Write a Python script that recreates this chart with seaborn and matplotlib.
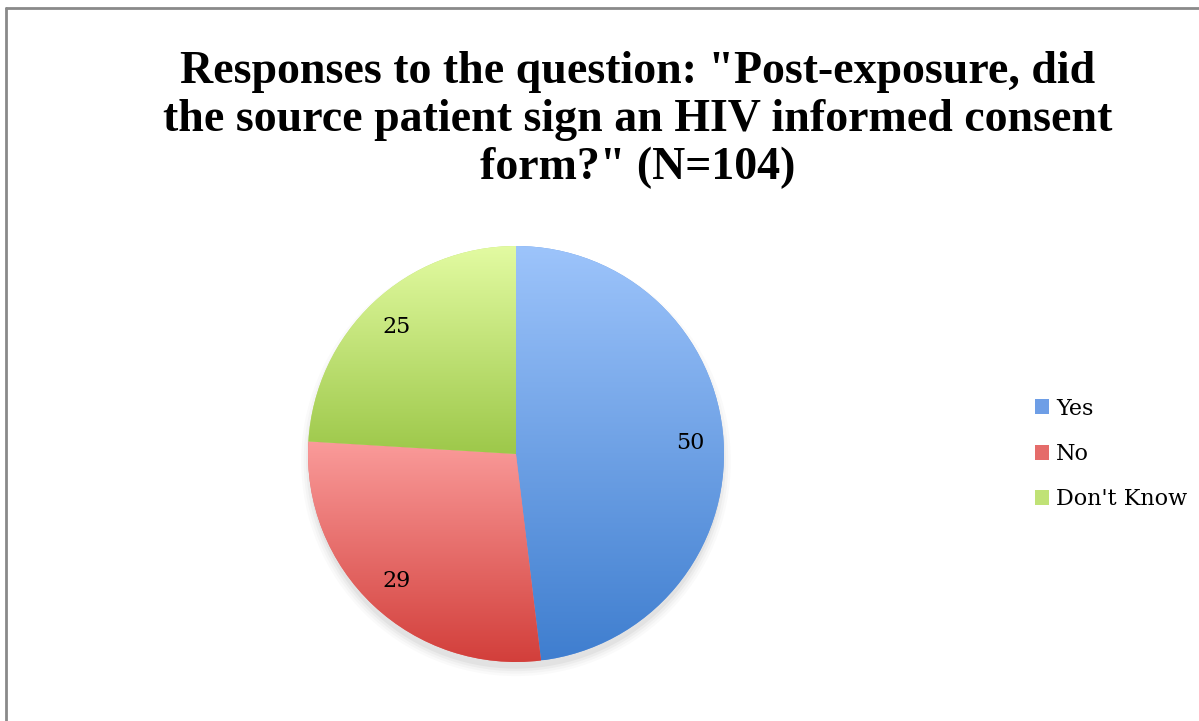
import numpy as np
import matplotlib
matplotlib.use("Agg")
import matplotlib.pyplot as plt
import seaborn as sns
from matplotlib.patches import Patch, Circle
from matplotlib.lines import Line2D
from matplotlib.colors import LinearSegmentedColormap

categories = ["Yes", "No", "Don't Know"]
values = [50, 29, 25]
top_colors = ["#9DC4FB", "#FA9B9A", "#E3FBA2"]
bottom_colors = ["#3F7ECF", "#D23E3A", "#9DC84A"]
mid_colors = ["#6E9EE6", "#E56C6A", "#C0E276"]
title_lines = ['Responses to the question: "Post-exposure, did',
               'the source patient sign an HIV informed consent',
               'form?" (N=104)']

sns.set_theme(style="white")
plt.rcParams['font.family'] = ['DejaVu Serif']
plt.rcParams['text.color'] = 'black'

W, H = 1199, 721
fig = plt.figure(figsize=(W / 100, H / 100), dpi=100)
fig.patch.set_facecolor("white")

cx, cy, R = 516, 454, 208
half = R * 1.1
ax = fig.add_axes([(cx - half) / W, (H - cy - half) / H, 2 * half / W, 2 * half / H])
ax.set_aspect("equal")
ax.axis("off")

# soft shadow at the bottom
for i, a in enumerate([0.02, 0.025, 0.03, 0.04]):
    ax.add_patch(Circle((0, -0.035), 0.985 + 0.012 * (4 - i), color="black", alpha=a, lw=0, zorder=0))

total = sum(values)
wedges, texts, autotexts = ax.pie(
    values, startangle=90, counterclock=False, colors=mid_colors,
    autopct=lambda p: f"{round(p * total / 100)}", pctdistance=0.84,
    radius=1.0, wedgeprops=dict(linewidth=0),
    textprops=dict(fontsize=16, color="black"),
)

for w, c0, c1 in zip(wedges, top_colors, bottom_colors):
    path = w.get_path()
    verts = w.get_transform().transform(path.vertices)
    verts = ax.transData.inverted().transform(verts)
    ymin, ymax = verts[:, 1].min(), verts[:, 1].max()
    cmap = LinearSegmentedColormap.from_list("g", [c1, c0])
    grad = np.linspace(0, 1, 256).reshape(-1, 1)
    im = ax.imshow(grad, cmap=cmap, extent=[-1.0, 1.0, ymin, ymax], origin="lower",
                   aspect="auto", zorder=2, interpolation="bilinear")
    im.set_clip_path(w)
for t in autotexts:
    t.set_zorder(5)
ax.set_xlim(-1.1, 1.1)
ax.set_ylim(-1.1, 1.1)

for i, line in enumerate(title_lines):
    fig.text(638 / W, 1 - (72 + 48 * i) / H, line, ha="center", va="center", fontsize=33,
             fontweight="bold", color="black", family=["Liberation Serif"])

handles = [Patch(facecolor=c, edgecolor="none") for c in mid_colors]
leg = fig.legend(handles, categories, loc="center left", bbox_to_anchor=(1026 / W, 1 - 454 / H),
                 frameon=False, fontsize=16, handlelength=0.65, handleheight=0.65,
                 handletextpad=0.3, labelspacing=1.05, borderaxespad=0)
for t in leg.get_texts():
    t.set_color("black")

# frame lines
fig.add_artist(Line2D([6 / W, 6 / W], [0, 1 - 8 / H], transform=fig.transFigure, color="#8a8a8a", lw=2))
fig.add_artist(Line2D([6 / W, 1], [1 - 8 / H, 1 - 8 / H], transform=fig.transFigure, color="#8a8a8a", lw=2))

fig.savefig("out.png", dpi=100, facecolor="white")
